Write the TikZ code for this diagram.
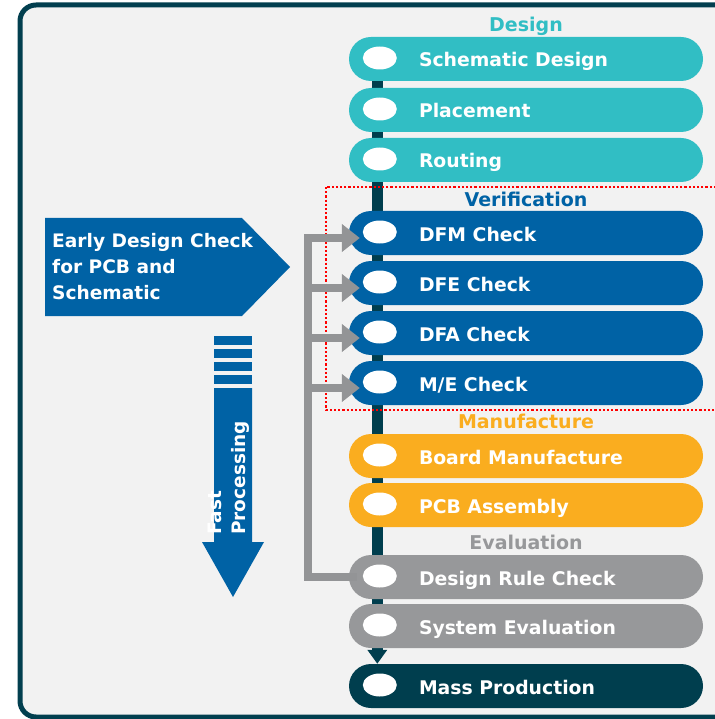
\documentclass[tikz,border=0pt]{standalone}
\usepackage{fontspec}
\setmainfont{DejaVu Sans}
\usetikzlibrary{shapes.geometric,arrows.meta}

\definecolor{tealc}{HTML}{31BEC4}
\definecolor{bluec}{HTML}{0062A5}
\definecolor{orangec}{HTML}{FAAD1F}
\definecolor{grayc}{HTML}{97989A}
\definecolor{darkc}{HTML}{003E4E}
\definecolor{framec}{HTML}{023F4F}
\definecolor{paperc}{HTML}{F2F2F2}
\definecolor{linec}{HTML}{939496}

\pgfdeclarelayer{bg}
\pgfdeclarelayer{mid}
\pgfsetlayers{bg,mid,main}

\begin{document}
\begin{tikzpicture}
  [x=1pt,y=-1pt,
   pill/.style={rectangle,rounded corners=22pt,minimum width=354pt,minimum height=44pt,inner sep=0pt},
   dot/.style={ellipse,fill=white,minimum width=34pt,minimum height=23pt,inner sep=0pt},
   steptext/.style={anchor=base west,text=white,inner sep=0pt,font=\bfseries\fontsize{18.8}{22}\selectfont},
   phase/.style={anchor=base,inner sep=0pt,font=\bfseries\fontsize{19}{22}\selectfont},
   feed/.style={draw=linec,line width=8.5pt,line join=miter,-{Triangle[width=27pt,length=18pt]}}]
  \useasboundingbox (0,0) rectangle (714,719);

  \begin{pgfonlayer}{bg}
    \draw[framec,fill=paperc,line width=5pt,rounded corners=16pt] (20,5) rectangle (760,717);
  \end{pgfonlayer}

  % phases
  \node[phase,text=tealc] (design) at (526,32) {Design};
  \node[phase,text=bluec] (verif) at (526,207) {Verification};
  \node[phase,text=orangec] (manuf) at (526,428) {Manufacture};
  \node[phase,text=grayc] (eval) at (526,549) {Evaluation};

  % steps
  \foreach \y/\name/\col/\txt in {59/sd/tealc/Schematic Design, 110/pl/tealc/Placement,
      160/ro/tealc/Routing, 233/dfm/bluec/DFM Check, 283/dfe/bluec/DFE Check,
      333/dfa/bluec/DFA Check, 383/me/bluec/{M/E Check}, 456/bm/orangec/Board Manufacture,
      505/pa/orangec/PCB Assembly, 577/drc/grayc/Design Rule Check,
      626/se/grayc/System Evaluation, 686/mp/darkc/Mass Production}
  {
    \node[pill,fill=\col] (\name) at (526,\y) {};
    \node[dot] (\name-dot) at ([xshift=31pt,yshift=1pt]\name.west) {};
    \node[steptext] (\name-txt) at ([xshift=70pt,yshift=-8pt]\name.west) {\txt};
  }

  % spine
  \coordinate (spinetop) at ([xshift=28.5pt]sd.west);
  \begin{pgfonlayer}{mid}
    \draw[darkc,line width=11pt,-{Triangle[width=19pt,length=14pt]}] (spinetop) -- (spinetop |- mp.north);
  \end{pgfonlayer}

  % verification box
  \draw[red,line width=2.2pt,dash pattern=on 2.2pt off 2pt] (326,187) rectangle (760,410);

  % feedback
  \coordinate (busbot) at (308,577);
  \coordinate (bustop) at (308,238);
  \foreach \n in {dfm,dfe,dfa,me}
    \coordinate (\n-in) at ([xshift=11pt,yshift=-5pt]\n.west);
  \draw[feed] ([xshift=8pt]drc.west) -- (busbot) -- (bustop) -- (dfm-in);
  \foreach \n in {dfe,dfa,me}
    \draw[feed] (bustop |- \n-in) -- (\n-in);

  % early check
  \fill[bluec] (45,218) -- (242,218) -- (290,267) -- (242,316) -- (45,316) -- cycle;
  \node[anchor=west,align=left,text=white,inner sep=0pt,font=\bfseries\fontsize{18.6}{26}\selectfont]
    (early) at (52,267) {Early Design Check\\for PCB and\\Schematic};

  % fast processing
  \foreach \y in {336,349,362,375}
    \fill[bluec] (214,\y) rectangle (252,\y+9);
  \fill[bluec] (214,388) -- (252,388) -- (252,542) -- (264,542) -- (233,597) -- (202,542) -- (214,542) -- cycle;
  \node[rotate=90,anchor=north west,align=left,text=white,inner sep=0pt,font=\bfseries\fontsize{18.5}{24}\selectfont]
    (fast) at (208,535) {Fast\\Processing};
\end{tikzpicture}
\end{document}
